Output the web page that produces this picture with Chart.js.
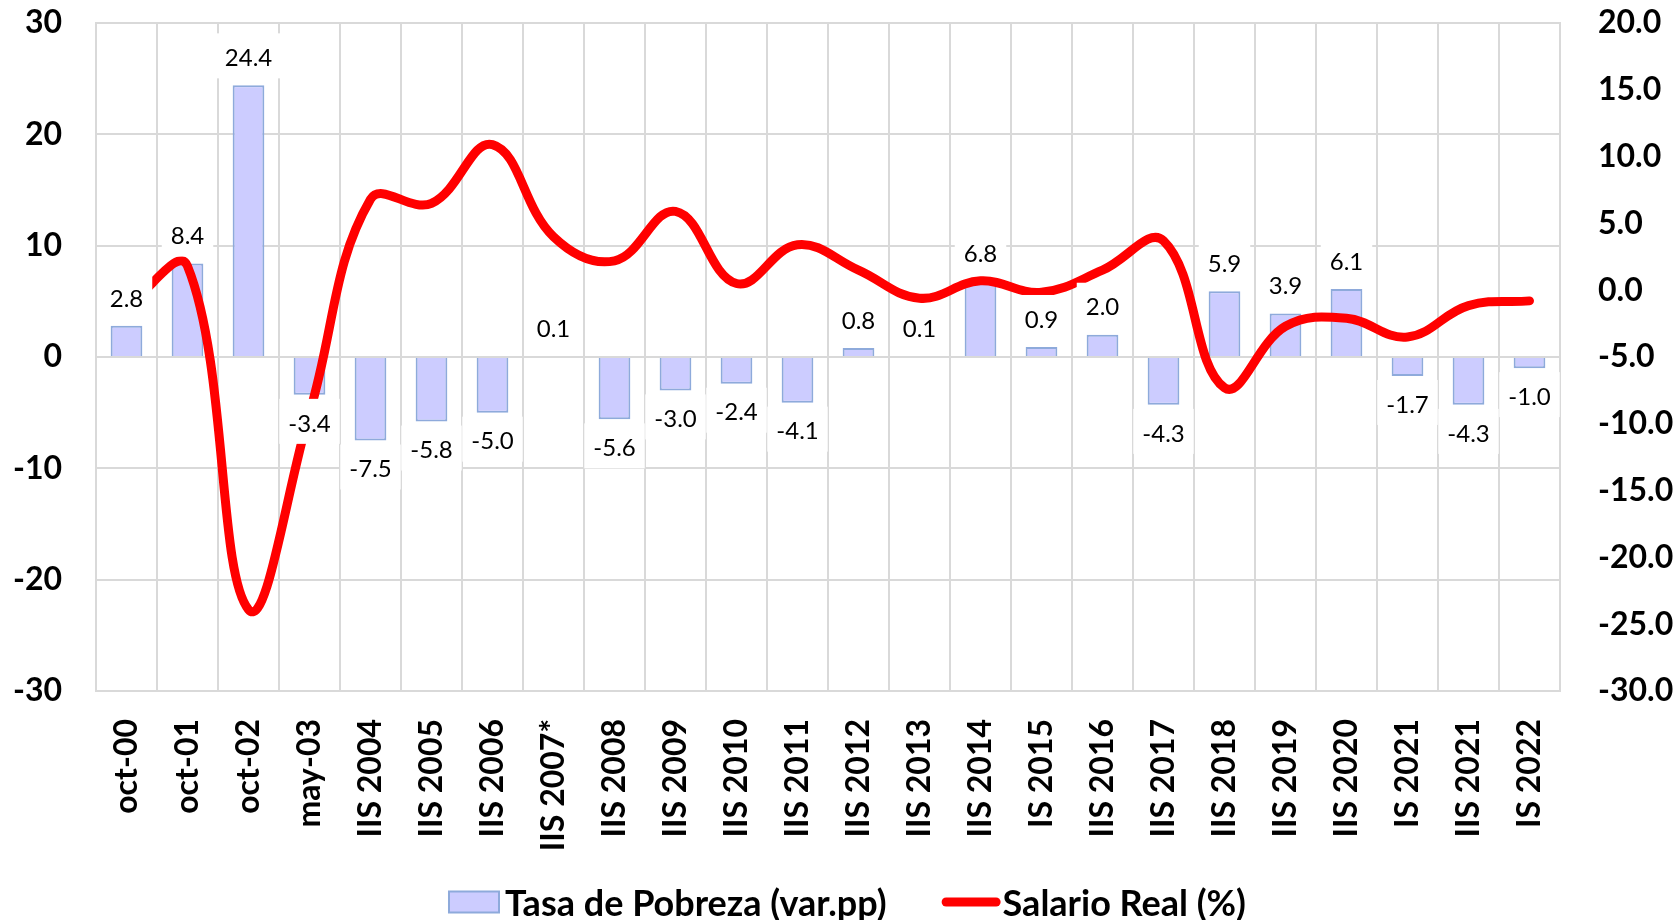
<!DOCTYPE html>
<html>
<head>
<meta charset="utf-8">
<script src="https://cdn.jsdelivr.net/npm/chart.js@4.4.0/dist/chart.umd.min.js"></script>
<style>
  html, body { margin: 0; padding: 0; background: #fff; }
  #wrap { width: 1679px; height: 920px; }
</style>
</head>
<body>
<div id="wrap"><canvas id="chart" width="1679" height="920"></canvas></div>
<script>
const categories = ['oct-00', 'oct-01', 'oct-02', 'may-03', 'IIS 2004', 'IIS 2005', 'IIS 2006', 'IIS 2007*',
  'IIS 2008', 'IIS 2009', 'IIS 2010', 'IIS 2011', 'IIS 2012', 'IIS 2013', 'IIS 2014', 'IS 2015',
  'IIS 2016', 'IIS 2017', 'IIS 2018', 'IIS 2019', 'IIS 2020', 'IS 2021', 'IIS 2021', 'IS 2022'];
const pobreza = [2.8, 8.4, 24.4, -3.4, -7.5, -5.8, -5.0, 0.1, -5.6, -3.0, -2.4, -4.1,
  0.8, 0.1, 6.8, 0.9, 2.0, -4.3, 5.9, 3.9, 6.1, -1.7, -4.3, -1.0];
const salario = [-1.2, 1.8, -23.9, -9.2, 6.8, 6.5, 10.9, 4.0, 2.2, 5.9, 0.5, 3.4,
  1.5, -0.6, 0.7, -0.15, 1.5, 3.7, -7.3, -2.7, -2.1, -3.5, -1.15, -0.8];
const leftAxis = [-30, 30, 10];    // min, max, step
const rightAxis = [-30, 20, 5];

const gridColor = '#d9d9d9';
const barFill = '#ccccff';
const barBorder = '#8eaadb';
const lineColor = '#ff0000';
const tickFont = { family: 'Lato', size: 32, weight: 'bold' };

// value labels with white boxes, drawn over the line like in the excel original
const barLabels = {
  id: 'barLabels',
  afterDatasetsDraw(chart) {
    const { ctx } = chart;
    const bars = chart.getDatasetMeta(0).data;
    ctx.save();
    ctx.font = '24px Lato';
    ctx.textAlign = 'center';
    ctx.textBaseline = 'middle';
    bars.forEach((bar, i) => {
      const v = pobreza[i];
      const txt = v.toFixed(1);
      const w = ctx.measureText(txt).width + 18;
      const cy = v >= 0 ? bar.y - 28 : bar.y + 28;
      ctx.fillStyle = '#fff';
      ctx.fillRect(bar.x - w / 2, cy - 24, w, 45);
      ctx.fillStyle = '#000';
      ctx.fillText(txt, bar.x, cy + 1);
    });
    ctx.restore();
  }
};

// legend under the category labels (built-in one would clip the rotated ticks)
const bottomLegend = {
  id: 'bottomLegend',
  afterDraw(chart) {
    const { ctx } = chart;
    const ds = chart.data.datasets;
    ctx.save();
    ctx.font = 'bold 36px Lato';
    ctx.textBaseline = 'middle';
    const cy = 902;
    const w0 = ctx.measureText(ds[0].label).width;
    const w1 = ctx.measureText(ds[1].label).width;
    const total = 50 + 6 + w0 + 55 + 59 + 2 + w1;
    let x = chart.width / 2 + 8 - total / 2;
    ctx.fillStyle = barFill;
    ctx.strokeStyle = barBorder;
    ctx.lineWidth = 2;
    ctx.fillRect(x, cy - 10.5, 50, 21);
    ctx.strokeRect(x, cy - 10.5, 50, 21);
    x += 56;
    ctx.fillStyle = '#000';
    ctx.fillText(ds[0].label, x, cy + 2);
    x += w0 + 55;
    ctx.strokeStyle = lineColor;
    ctx.lineWidth = 9;
    ctx.lineCap = 'round';
    ctx.beginPath();
    ctx.moveTo(x + 4.5, cy);
    ctx.lineTo(x + 54.5, cy);
    ctx.stroke();
    x += 61;
    ctx.fillText(ds[1].label, x, cy + 2);
    ctx.restore();
  }
};

// tick padding also pads the top of vertical axes; drop that so the plot starts at the top
const noVPad = s => { s.paddingTop = 0; s.paddingBottom = 0; };

function draw() {
  new Chart(document.getElementById('chart'), {
    data: {
      labels: categories,
      datasets: [{
        type: 'bar',
        label: 'Tasa de Pobreza (var.pp)',
        data: pobreza,
        backgroundColor: barFill,
        borderColor: barBorder,
        borderWidth: 2,
        barPercentage: 0.52,
        categoryPercentage: 1,
        yAxisID: 'y',
        order: 1
      }, {
        type: 'line',
        label: 'Salario Real (%)',
        data: salario,
        borderColor: lineColor,
        borderWidth: 9,
        borderCapStyle: 'round',
        borderJoinStyle: 'round',
        pointRadius: 0,
        tension: 0.4,
        fill: false,
        yAxisID: 'y1',
        order: 0
      }]
    },
    options: {
      responsive: false,
      animation: false,
      layout: { padding: { top: 23, bottom: 0, left: 0, right: 0 } },
      plugins: {
        tooltip: { enabled: false },
        legend: { display: false }
      },
      scales: {
        x: {
          grid: { color: gridColor, lineWidth: 2, drawTicks: false, offset: true },
          border: { color: gridColor, width: 2 },
          ticks: {
            autoSkip: false, minRotation: 90, maxRotation: 90, padding: 28,
            color: '#000', font: tickFont
          },
          afterFit: s => { s.height = s.chart.height - 691; }
        },
        y: {
          position: 'left',
          min: leftAxis[0], max: leftAxis[1],
          grid: { color: gridColor, lineWidth: 2, drawTicks: false },
          border: { color: gridColor, width: 2 },
          ticks: { stepSize: leftAxis[2], padding: 34, color: '#000', font: tickFont },
          afterFit: s => { s.width = 96; noVPad(s); }
        },
        y1: {
          position: 'right',
          min: rightAxis[0], max: rightAxis[1],
          grid: { display: false, drawTicks: false },
          border: { color: gridColor, width: 2 },
          ticks: {
            stepSize: rightAxis[2], padding: 38, color: '#000', font: tickFont,
            callback: v => v.toFixed(1)
          },
          afterFit: s => { s.width = 119; noVPad(s); }
        }
      }
    },
    plugins: [barLabels, bottomLegend]
  });
}

Promise.all([
  document.fonts.load('bold 32px Lato'),
  document.fonts.load('24px Lato')
]).then(draw, draw);
</script>
</body>
</html>
